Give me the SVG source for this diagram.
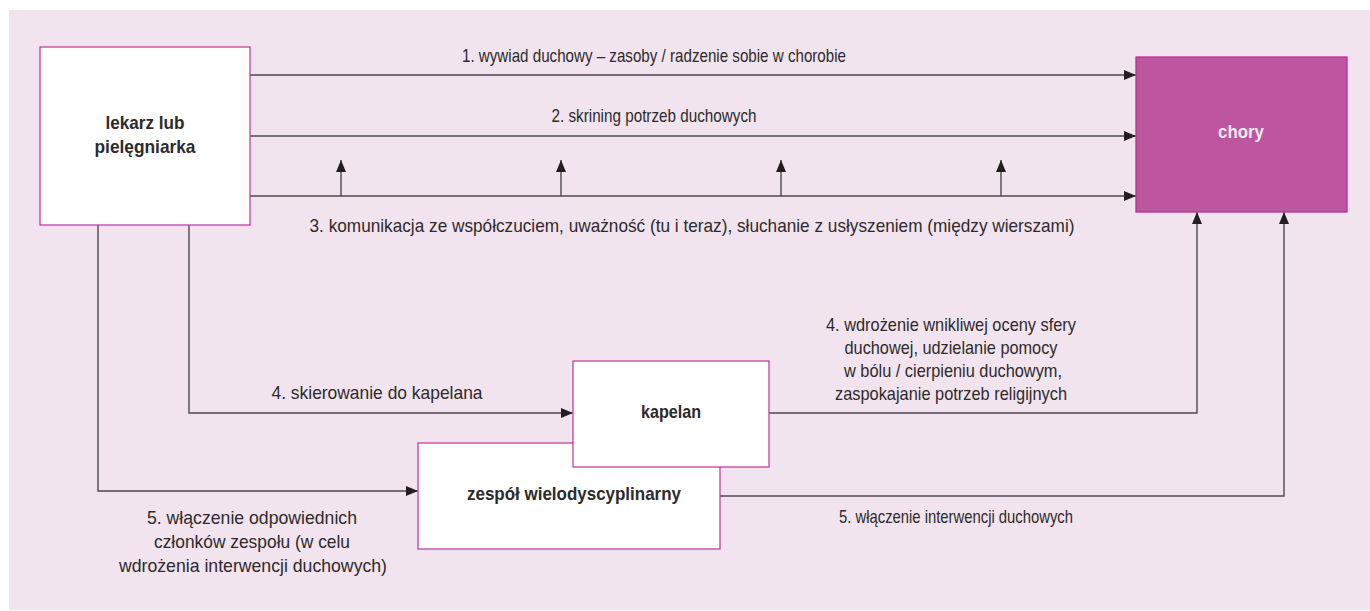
<svg xmlns="http://www.w3.org/2000/svg" width="1370" height="611" viewBox="0 0 1370 611">
  <defs>
    <marker id="arrow" viewBox="0 0 12 10" refX="12" refY="5" markerWidth="12" markerHeight="10" markerUnits="userSpaceOnUse" orient="auto">
      <path d="M0,0 L12,5 L0,10 z" fill="#231f20"/>
    </marker>
    <style>
      .panel { fill: #f2e4ef; }
      .box { fill: #ffffff; stroke: #c4409f; stroke-width: 1.3; }
      .box-main { fill: #bd55a0; stroke: #b8308f; stroke-width: 1.3; }
      .link { fill: none; stroke: #4d4a4c; stroke-width: 1.4; }
      .lbl { font-family: "Liberation Sans", Arial, sans-serif; font-size: 19px; fill: #2d2a2b; text-anchor: middle; }
      .node-lbl { font-family: "Liberation Sans", Arial, sans-serif; font-size: 19px; font-weight: bold; fill: #2d2a2b; text-anchor: middle; }
      .node-lbl-light { fill: #f7ebf4; }
    </style>
  </defs>

  <rect class="panel" x="9" y="10" width="1361" height="600"/>

  <!-- connectors -->
  <g id="connectors">
    <line class="link" x1="250" y1="75" x2="1136" y2="75" marker-end="url(#arrow)"/>
    <line class="link" x1="250" y1="136" x2="1136" y2="136" marker-end="url(#arrow)"/>
    <line class="link" x1="250" y1="196" x2="1136" y2="196" marker-end="url(#arrow)"/>
    <line class="link" x1="341" y1="196" x2="341" y2="160" marker-end="url(#arrow)"/>
    <line class="link" x1="561" y1="196" x2="561" y2="160" marker-end="url(#arrow)"/>
    <line class="link" x1="781" y1="196" x2="781" y2="160" marker-end="url(#arrow)"/>
    <line class="link" x1="1001" y1="196" x2="1001" y2="160" marker-end="url(#arrow)"/>
    <polyline class="link" points="189,225 189,413 573,413" marker-end="url(#arrow)"/>
    <polyline class="link" points="98,225 98,491 418,491" marker-end="url(#arrow)"/>
    <polyline class="link" points="769,413 1197,413 1197,212" marker-end="url(#arrow)"/>
    <polyline class="link" points="720,496 1284,496 1284,212" marker-end="url(#arrow)"/>
  </g>

  <!-- connector labels -->
  <g id="connector-labels">
    <text class="lbl" x="654" y="62" textLength="384" lengthAdjust="spacingAndGlyphs">1. wywiad duchowy – zasoby / radzenie sobie w chorobie</text>
    <text class="lbl" x="654" y="122" textLength="205" lengthAdjust="spacingAndGlyphs">2. skrining potrzeb duchowych</text>
    <text class="lbl" x="692" y="232" textLength="765" lengthAdjust="spacingAndGlyphs">3. komunikacja ze współczuciem, uważność (tu i teraz), słuchanie z usłyszeniem (między wierszami)</text>
    <text class="lbl" x="377" y="399" textLength="211" lengthAdjust="spacingAndGlyphs">4. skierowanie do kapelana</text>
    <text class="lbl" x="951" y="331" textLength="250" lengthAdjust="spacingAndGlyphs">4. wdrożenie wnikliwej oceny sfery</text>
    <text class="lbl" x="951" y="354" textLength="213" lengthAdjust="spacingAndGlyphs">duchowej, udzielanie pomocy</text>
    <text class="lbl" x="953" y="377" textLength="218" lengthAdjust="spacingAndGlyphs">w bólu / cierpieniu duchowym,</text>
    <text class="lbl" x="951" y="400" textLength="232" lengthAdjust="spacingAndGlyphs">zaspokajanie potrzeb religijnych</text>
    <text class="lbl" x="252" y="524" textLength="210" lengthAdjust="spacingAndGlyphs">5. włączenie odpowiednich</text>
    <text class="lbl" x="252" y="548" textLength="196" lengthAdjust="spacingAndGlyphs">członków zespołu (w celu</text>
    <text class="lbl" x="253" y="572" textLength="268" lengthAdjust="spacingAndGlyphs">wdrożenia interwencji duchowych)</text>
    <text class="lbl" x="956" y="523" textLength="234" lengthAdjust="spacingAndGlyphs">5. włączenie interwencji duchowych</text>
  </g>

  <g id="node-lekarz">
    <rect class="box" x="40" y="47" width="210" height="178"/>
    <text class="node-lbl" x="145" y="129" textLength="79" lengthAdjust="spacingAndGlyphs">lekarz lub</text>
    <text class="node-lbl" x="145" y="153" textLength="101" lengthAdjust="spacingAndGlyphs">pielęgniarka</text>
  </g>

  <g id="node-chory">
    <rect class="box-main" x="1136" y="57" width="211" height="155"/>
    <text class="node-lbl node-lbl-light" x="1241" y="138" textLength="46" lengthAdjust="spacingAndGlyphs">chory</text>
  </g>

  <g id="node-zespol">
    <rect class="box" x="418" y="443" width="302" height="106"/>
    <text class="node-lbl" x="574" y="500" textLength="214" lengthAdjust="spacingAndGlyphs">zespół wielodyscyplinarny</text>
  </g>

  <g id="node-kapelan">
    <rect class="box" x="573" y="361" width="196" height="106"/>
    <text class="node-lbl" x="671" y="418" textLength="60" lengthAdjust="spacingAndGlyphs">kapelan</text>
  </g>
</svg>
